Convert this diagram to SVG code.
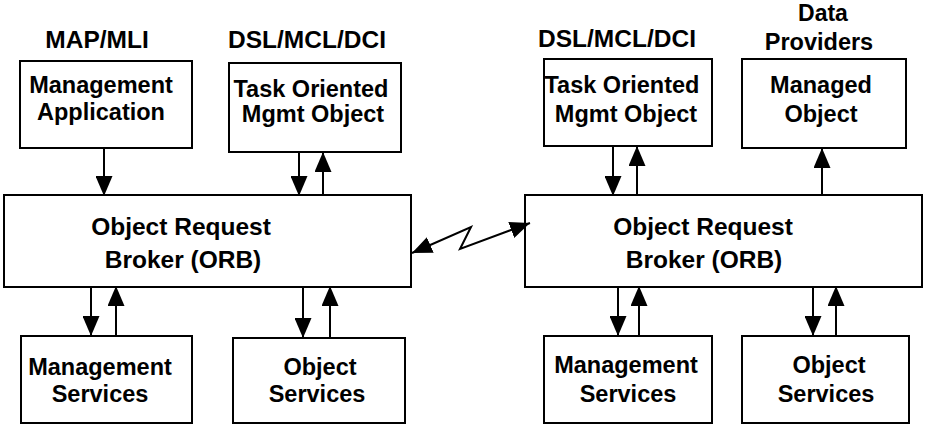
<svg xmlns="http://www.w3.org/2000/svg" width="934" height="425" viewBox="0 0 934 425">
<style>
.box{fill:#fff;stroke:#000;stroke-width:2}
.t{font-family:"Liberation Sans",Arial,sans-serif;font-weight:bold;font-size:23.5px;fill:#000;text-anchor:middle}
.h{font-size:24.5px}
.c{stroke:#000;stroke-width:2;fill:none;marker-end:url(#ah)}
.z{stroke:#000;stroke-width:2;fill:none;marker-end:url(#ah);marker-start:url(#ah)}
</style>
<defs>
<marker id="ah" markerUnits="userSpaceOnUse" markerWidth="20" markerHeight="17" refX="20" refY="8.5" orient="auto-start-reverse" viewBox="0 0 20 17">
<path d="M0,0 L20,8.5 L0,17 z" fill="#000"/>
</marker>
</defs>
<rect width="934" height="425" fill="#fff"/>
<g id="labels">
<text class="t h" x="97" y="48">MAP/MLI</text>
<text class="t h" x="307" y="48">DSL/MCL/DCI</text>
<text class="t h" x="617" y="47">DSL/MCL/DCI</text>
<text class="t" x="823" y="21" style="font-size:23px">Data</text>
<text class="t" x="819" y="50">Providers</text>
</g>
<g id="mgmt-app">
<rect class="box" x="20" y="61" width="172" height="87"/>
<text class="t" x="101" y="93">Management</text>
<text class="t" x="101" y="120">Application</text>
</g>
<g id="tomo-left">
<rect class="box" x="229" y="63" width="172" height="89"/>
<text class="t" x="311" y="97">Task Oriented</text>
<text class="t" x="313" y="122">Mgmt Object</text>
</g>
<g id="tomo-right">
<rect class="box" x="544" y="59" width="168" height="87"/>
<text class="t" x="622" y="93">Task Oriented</text>
<text class="t" x="626" y="122">Mgmt Object</text>
</g>
<g id="managed-object">
<rect class="box" x="742" y="59" width="164" height="89"/>
<text class="t" x="821" y="93">Managed</text>
<text class="t" x="821" y="122">Object</text>
</g>
<g id="orb-left">
<rect class="box" x="4" y="195" width="407" height="92"/>
<text class="t h" x="181" y="235">Object Request</text>
<text class="t h" x="183" y="268">Broker (ORB)</text>
</g>
<g id="orb-right">
<rect class="box" x="525" y="195" width="397" height="92"/>
<text class="t h" x="703" y="235">Object Request</text>
<text class="t h" x="704" y="268">Broker (ORB)</text>
</g>
<g id="mgmt-services-left">
<rect class="box" x="21" y="336" width="171" height="87"/>
<text class="t" x="100" y="375">Management</text>
<text class="t" x="100" y="402">Services</text>
</g>
<g id="object-services-left">
<rect class="box" x="233" y="338" width="172" height="85"/>
<text class="t" x="320" y="375">Object</text>
<text class="t" x="317" y="402">Services</text>
</g>
<g id="mgmt-services-right">
<rect class="box" x="544" y="336" width="168" height="87"/>
<text class="t" x="626" y="373">Management</text>
<text class="t" x="628" y="402">Services</text>
</g>
<g id="object-services-right">
<rect class="box" x="742" y="336" width="167" height="87"/>
<text class="t" x="829" y="373">Object</text>
<text class="t" x="826" y="402">Services</text>
</g>
<g id="connectors">
<line class="c" x1="104" y1="148" x2="104" y2="196"/>
<line class="c" x1="299" y1="152" x2="299" y2="196"/>
<line class="c" x1="323" y1="195" x2="323" y2="152"/>
<line class="c" x1="91" y1="287" x2="91" y2="336"/>
<line class="c" x1="116" y1="336" x2="116" y2="286"/>
<line class="c" x1="303" y1="287" x2="303" y2="338"/>
<line class="c" x1="330" y1="338" x2="330" y2="286"/>
<line class="c" x1="613" y1="146" x2="613" y2="196"/>
<line class="c" x1="637" y1="195" x2="637" y2="146"/>
<line class="c" x1="822" y1="195" x2="822" y2="148"/>
<line class="c" x1="618" y1="287" x2="618" y2="336"/>
<line class="c" x1="639" y1="336" x2="639" y2="286"/>
<line class="c" x1="813" y1="287" x2="813" y2="336"/>
<line class="c" x1="836" y1="336" x2="836" y2="286"/>
<polyline class="z" points="412,253 471,227 460,249 530,223"/>
</g>
</svg>
